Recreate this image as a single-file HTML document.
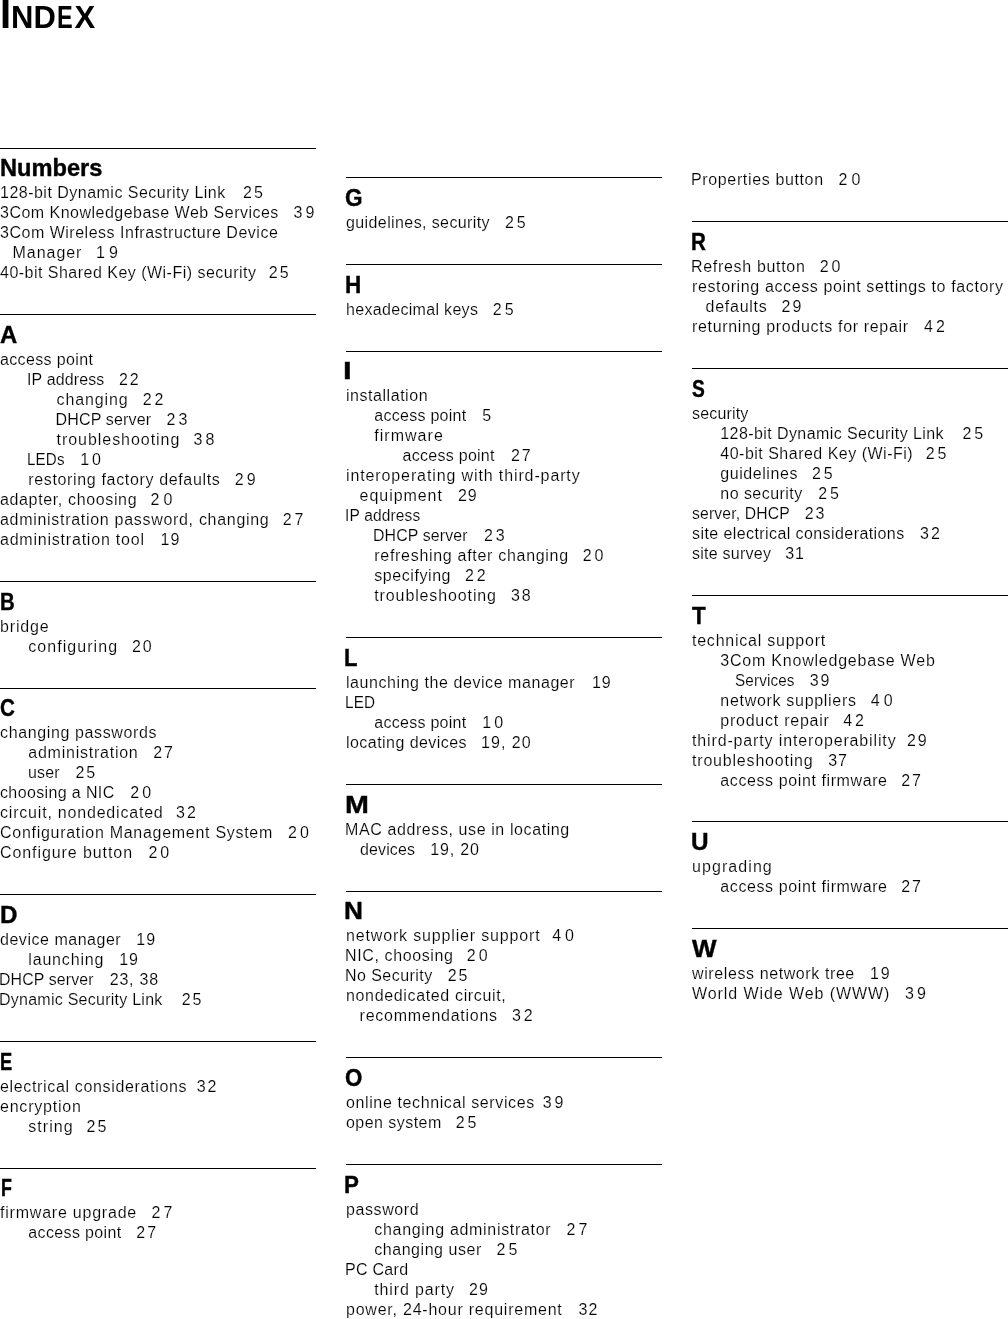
<!DOCTYPE html>
<html><head><meta charset="utf-8"><style>
html,body{margin:0;padding:0;background:#fff;}
body{width:1008px;height:1319px;position:relative;overflow:hidden;font-family:"Liberation Sans",sans-serif;color:#000;}
.l,.n{position:absolute;white-space:pre;font-size:16px;line-height:20px;height:20px;color:#000;-webkit-text-stroke:0.15px #fff;}
.h{position:absolute;white-space:pre;font-size:24px;line-height:30px;height:30px;font-weight:bold;-webkit-text-stroke:0.4px #000;}
.w{position:absolute;left:0;top:0;width:1008px;height:1319px;will-change:transform;}
.r{position:absolute;height:1px;background:#000;}
.t1{position:absolute;left:0px;top:-11px;font-size:40px;line-height:50px;font-weight:bold;}
.t2{position:absolute;top:-7.5px;font-size:31px;line-height:50px;font-weight:bold;white-space:pre;}
</style></head><body><div class="w">
<div class="t1">I</div><div class="t2" style="left:11px">ND</div><div class="t2" style="left:57.2px;transform:scaleX(0.76);transform-origin:0 0">E</div><div class="t2" style="left:74.5px">X</div>
<div class="r" style="left:0px;top:148px;width:316px"></div>
<div class="r" style="left:0px;top:314px;width:316px"></div>
<div class="r" style="left:0px;top:581px;width:316px"></div>
<div class="r" style="left:0px;top:688px;width:316px"></div>
<div class="r" style="left:0px;top:894px;width:316px"></div>
<div class="r" style="left:0px;top:1041px;width:316px"></div>
<div class="r" style="left:0px;top:1168px;width:316px"></div>
<div class="r" style="left:346px;top:177px;width:316px"></div>
<div class="r" style="left:346px;top:264px;width:316px"></div>
<div class="r" style="left:346px;top:351px;width:316px"></div>
<div class="r" style="left:346px;top:637px;width:316px"></div>
<div class="r" style="left:346px;top:784px;width:316px"></div>
<div class="r" style="left:346px;top:891px;width:316px"></div>
<div class="r" style="left:346px;top:1057px;width:316px"></div>
<div class="r" style="left:346px;top:1164px;width:316px"></div>
<div class="r" style="left:692px;top:221px;width:316px"></div>
<div class="r" style="left:692px;top:368px;width:316px"></div>
<div class="r" style="left:692px;top:595px;width:316px"></div>
<div class="r" style="left:692px;top:821px;width:316px"></div>
<div class="r" style="left:692px;top:928px;width:316px"></div>
<div class="h" style="left:-0.17px;top:152.7px;transform:scaleX(0.984);transform-origin:0 0">Numbers</div>
<div class="h" style="left:0.01px;top:320.4px;transform:scaleX(0.994);transform-origin:0 0">A</div>
<div class="h" style="left:0.3px;top:587.1px;transform:scaleX(0.85);transform-origin:0 0">B</div>
<div class="h" style="left:0.14px;top:692.8px;transform:scaleX(0.86);transform-origin:0 0">C</div>
<div class="h" style="left:-0.01px;top:899.5px;transform:scaleX(1.007);transform-origin:0 0">D</div>
<div class="h" style="left:0.48px;top:1047.2px;transform:scaleX(0.762);transform-origin:0 0">E</div>
<div class="h" style="left:0.52px;top:1172.9px;transform:scaleX(0.742);transform-origin:0 0">F</div>
<div class="h" style="left:345.06px;top:182.7px;transform:scaleX(0.938);transform-origin:0 0">G</div>
<div class="h" style="left:345.03px;top:270.4px;transform:scaleX(0.936);transform-origin:0 0">H</div>
<div class="h" style="left:343.4px;top:356.1px;transform:scaleX(1.3);transform-origin:0 0">I</div>
<div class="h" style="left:344.17px;top:642.8px;transform:scaleX(0.917);transform-origin:0 0">L</div>
<div class="h" style="left:344.51px;top:789.5px;transform:scaleX(1.194);transform-origin:0 0">M</div>
<div class="h" style="left:343.81px;top:896.2px;transform:scaleX(1.093);transform-origin:0 0">N</div>
<div class="h" style="left:345.07px;top:1062.9px;transform:scaleX(0.929);transform-origin:0 0">O</div>
<div class="h" style="left:344.14px;top:1169.6px;transform:scaleX(0.931);transform-origin:0 0">P</div>
<div class="h" style="left:691.18px;top:226.7px;transform:scaleX(0.86);transform-origin:0 0">R</div>
<div class="h" style="left:692.1px;top:374.4px;transform:scaleX(0.8);transform-origin:0 0">S</div>
<div class="h" style="left:691.95px;top:601.1px;transform:scaleX(0.932);transform-origin:0 0">T</div>
<div class="h" style="left:691.09px;top:826.8px;transform:scaleX(1.013);transform-origin:0 0">U</div>
<div class="h" style="left:691.95px;top:933.5px;transform:scaleX(1.084);transform-origin:0 0">W</div>
<div class="l" id="t0" style="left:0.00px;top:182.5px;letter-spacing:0.486px">128-bit Dynamic Security Link</div>
<div class="n" id="n0" style="left:243.00px;top:182.5px;letter-spacing:2.000px">25</div>
<div class="l" id="t1" style="left:0.00px;top:202.5px;letter-spacing:0.483px">3Com Knowledgebase Web Services</div>
<div class="n" id="n1" style="left:293.60px;top:202.5px;letter-spacing:3.000px">39</div>
<div class="l" id="t2" style="left:0.00px;top:222.5px;letter-spacing:0.509px">3Com Wireless Infrastructure Device</div>
<div class="l" id="t3" style="left:12.60px;top:242.5px;letter-spacing:0.950px">Manager</div>
<div class="n" id="n3" style="left:96.00px;top:242.5px;letter-spacing:4.000px">19</div>
<div class="l" id="t4" style="left:0.00px;top:262.5px;letter-spacing:0.480px">40-bit Shared Key (Wi-Fi) security</div>
<div class="n" id="n4" style="left:268.80px;top:262.5px;letter-spacing:2.000px">25</div>
<div class="l" id="t5" style="left:0.00px;top:350.2px;letter-spacing:0.359px">access point</div>
<div class="l" id="t6" style="left:27.30px;top:370.2px;letter-spacing:0.150px;transform:scaleX(0.9962);transform-origin:0 0">IP address</div>
<div class="n" id="n6" style="left:118.90px;top:370.2px;letter-spacing:2.000px">22</div>
<div class="l" id="t7" style="left:56.60px;top:390.2px;letter-spacing:0.879px">changing</div>
<div class="n" id="n7" style="left:142.70px;top:390.2px;letter-spacing:3.000px">22</div>
<div class="l" id="t8" style="left:55.60px;top:410.2px;letter-spacing:0.151px">DHCP server</div>
<div class="n" id="n8" style="left:166.50px;top:410.2px;letter-spacing:3.000px">23</div>
<div class="l" id="t9" style="left:56.60px;top:430.2px;letter-spacing:0.950px">troubleshooting</div>
<div class="n" id="n9" style="left:193.50px;top:430.2px;letter-spacing:3.000px">38</div>
<div class="l" id="t10" style="left:27.30px;top:450.2px;letter-spacing:0.150px;transform:scaleX(0.9472);transform-origin:0 0">LEDs</div>
<div class="n" id="n10" style="left:80.20px;top:450.2px;letter-spacing:3.000px">10</div>
<div class="l" id="t11" style="left:28.30px;top:470.2px;letter-spacing:0.650px">restoring factory defaults</div>
<div class="n" id="n11" style="left:234.80px;top:470.2px;letter-spacing:3.000px">29</div>
<div class="l" id="t12" style="left:0.00px;top:490.2px;letter-spacing:0.638px">adapter, choosing</div>
<div class="n" id="n12" style="left:150.60px;top:490.2px;letter-spacing:4.000px">20</div>
<div class="l" id="t13" style="left:0.00px;top:510.2px;letter-spacing:0.700px">administration password, changing</div>
<div class="n" id="n13" style="left:282.70px;top:510.2px;letter-spacing:3.000px">27</div>
<div class="l" id="t14" style="left:0.00px;top:530.2px;letter-spacing:0.783px">administration tool</div>
<div class="n" id="n14" style="left:160.50px;top:530.2px;letter-spacing:1.000px">19</div>
<div class="l" id="t15" style="left:0.00px;top:616.9px;letter-spacing:0.850px">bridge</div>
<div class="l" id="t16" style="left:28.30px;top:636.9px;letter-spacing:1.050px">configuring</div>
<div class="n" id="n16" style="left:131.90px;top:636.9px;letter-spacing:2.000px">20</div>
<div class="l" id="t17" style="left:0.00px;top:722.6px;letter-spacing:0.626px">changing passwords</div>
<div class="l" id="t18" style="left:28.30px;top:742.6px;letter-spacing:0.758px">administration</div>
<div class="n" id="n18" style="left:153.20px;top:742.6px;letter-spacing:2.000px">27</div>
<div class="l" id="t19" style="left:28.30px;top:762.6px;letter-spacing:0.150px;transform:scaleX(0.9974);transform-origin:0 0">user</div>
<div class="n" id="n19" style="left:75.40px;top:762.6px;letter-spacing:2.000px">25</div>
<div class="l" id="t20" style="left:0.00px;top:782.6px;letter-spacing:0.373px">choosing a NIC</div>
<div class="n" id="n20" style="left:130.30px;top:782.6px;letter-spacing:3.000px">20</div>
<div class="l" id="t21" style="left:0.00px;top:802.6px;letter-spacing:0.800px">circuit, nondedicated</div>
<div class="n" id="n21" style="left:176.00px;top:802.6px;letter-spacing:2.000px">32</div>
<div class="l" id="t22" style="left:0.00px;top:822.6px;letter-spacing:0.717px">Configuration Management System</div>
<div class="n" id="n22" style="left:288.10px;top:822.6px;letter-spacing:3.000px">20</div>
<div class="l" id="t23" style="left:0.00px;top:842.6px;letter-spacing:0.917px">Configure button</div>
<div class="n" id="n23" style="left:148.40px;top:842.6px;letter-spacing:3.000px">20</div>
<div class="l" id="t24" style="left:0.00px;top:930.3px;letter-spacing:0.527px">device manager</div>
<div class="n" id="n24" style="left:136.30px;top:930.3px;letter-spacing:1.000px">19</div>
<div class="l" id="t25" style="left:28.30px;top:950.3px;letter-spacing:0.825px">launching</div>
<div class="n" id="n25" style="left:119.20px;top:950.3px;letter-spacing:1.000px">19</div>
<div class="l" id="t26" style="left:-1.00px;top:970.3px;letter-spacing:0.150px;transform:scaleX(0.9895);transform-origin:0 0">DHCP server</div>
<div class="n" id="n26" style="left:109.70px;top:970.3px;letter-spacing:0.800px">23, 38</div>
<div class="l" id="t27" style="left:-1.00px;top:990.3px;letter-spacing:0.250px">Dynamic Security Link</div>
<div class="n" id="n27" style="left:181.70px;top:990.3px;letter-spacing:2.000px">25</div>
<div class="l" id="t28" style="left:0.00px;top:1077.0px;letter-spacing:0.658px">electrical considerations</div>
<div class="n" id="n28" style="left:196.70px;top:1077.0px;letter-spacing:2.000px">32</div>
<div class="l" id="t29" style="left:0.00px;top:1097.0px;letter-spacing:0.783px">encryption</div>
<div class="l" id="t30" style="left:28.30px;top:1117.0px;letter-spacing:1.050px">string</div>
<div class="n" id="n30" style="left:86.50px;top:1117.0px;letter-spacing:2.000px">25</div>
<div class="l" id="t31" style="left:0.00px;top:1202.7px;letter-spacing:0.783px">firmware upgrade</div>
<div class="n" id="n31" style="left:151.60px;top:1202.7px;letter-spacing:3.000px">27</div>
<div class="l" id="t32" style="left:28.30px;top:1222.7px;letter-spacing:0.359px">access point</div>
<div class="n" id="n32" style="left:136.30px;top:1222.7px;letter-spacing:2.000px">27</div>
<div class="l" id="t33" style="left:346.00px;top:212.5px;letter-spacing:0.397px">guidelines, security</div>
<div class="n" id="n33" style="left:504.90px;top:212.5px;letter-spacing:3.000px">25</div>
<div class="l" id="t34" style="left:346.00px;top:300.2px;letter-spacing:0.317px">hexadecimal keys</div>
<div class="n" id="n34" style="left:492.80px;top:300.2px;letter-spacing:3.000px">25</div>
<div class="l" id="t35" style="left:346.00px;top:385.9px;letter-spacing:0.541px">installation</div>
<div class="l" id="t36" style="left:374.30px;top:405.9px;letter-spacing:0.268px">access point</div>
<div class="n" id="n36" style="left:482.30px;top:405.9px;letter-spacing:2.000px">5</div>
<div class="l" id="t37" style="left:374.30px;top:425.9px;letter-spacing:1.021px">firmware</div>
<div class="l" id="t38" style="left:402.60px;top:445.9px;letter-spacing:0.268px">access point</div>
<div class="n" id="n38" style="left:510.90px;top:445.9px;letter-spacing:2.000px">27</div>
<div class="l" id="t39" style="left:346.00px;top:465.9px;letter-spacing:0.883px">interoperating with third-party</div>
<div class="l" id="t40" style="left:359.60px;top:485.9px;letter-spacing:0.950px">equipment</div>
<div class="n" id="n40" style="left:457.90px;top:485.9px;letter-spacing:1.000px">29</div>
<div class="l" id="t41" style="left:345.00px;top:505.9px;letter-spacing:0.150px;transform:scaleX(0.9702);transform-origin:0 0">IP address</div>
<div class="l" id="t42" style="left:373.30px;top:525.9px;letter-spacing:0.150px;transform:scaleX(0.9898);transform-origin:0 0">DHCP server</div>
<div class="n" id="n42" style="left:483.90px;top:525.9px;letter-spacing:3.000px">23</div>
<div class="l" id="t43" style="left:374.30px;top:545.9px;letter-spacing:0.700px">refreshing after changing</div>
<div class="n" id="n43" style="left:582.70px;top:545.9px;letter-spacing:3.000px">20</div>
<div class="l" id="t44" style="left:374.30px;top:565.9px;letter-spacing:0.561px">specifying</div>
<div class="n" id="n44" style="left:464.90px;top:565.9px;letter-spacing:3.000px">22</div>
<div class="l" id="t45" style="left:374.30px;top:585.9px;letter-spacing:0.879px">troubleshooting</div>
<div class="n" id="n45" style="left:510.90px;top:585.9px;letter-spacing:2.000px">38</div>
<div class="l" id="t46" style="left:346.00px;top:672.6px;letter-spacing:0.561px">launching the device manager</div>
<div class="n" id="n46" style="left:591.90px;top:672.6px;letter-spacing:1.000px">19</div>
<div class="l" id="t47" style="left:345.00px;top:692.6px;letter-spacing:0.150px;transform:scaleX(0.9553);transform-origin:0 0">LED</div>
<div class="l" id="t48" style="left:374.30px;top:712.6px;letter-spacing:0.268px">access point</div>
<div class="n" id="n48" style="left:482.30px;top:712.6px;letter-spacing:3.000px">10</div>
<div class="l" id="t49" style="left:346.00px;top:732.6px;letter-spacing:0.450px">locating devices</div>
<div class="n" id="n49" style="left:481.10px;top:732.6px;letter-spacing:1.000px">19, 20</div>
<div class="l" id="t50" style="left:345.00px;top:820.3px;letter-spacing:0.598px">MAC address, use in locating</div>
<div class="l" id="t51" style="left:359.60px;top:840.3px;letter-spacing:0.150px;transform:scaleX(0.9964);transform-origin:0 0">devices</div>
<div class="n" id="n51" style="left:430.30px;top:840.3px;letter-spacing:0.800px">19, 20</div>
<div class="l" id="t52" style="left:346.00px;top:926.0px;letter-spacing:0.841px">network supplier support</div>
<div class="n" id="n52" style="left:552.20px;top:926.0px;letter-spacing:4.000px">40</div>
<div class="l" id="t53" style="left:345.00px;top:946.0px;letter-spacing:0.617px">NIC, choosing</div>
<div class="n" id="n53" style="left:466.80px;top:946.0px;letter-spacing:3.000px">20</div>
<div class="l" id="t54" style="left:345.00px;top:966.0px;letter-spacing:0.450px">No Security</div>
<div class="n" id="n54" style="left:447.70px;top:966.0px;letter-spacing:2.000px">25</div>
<div class="l" id="t55" style="left:346.00px;top:986.0px;letter-spacing:0.650px">nondedicated circuit,</div>
<div class="l" id="t56" style="left:359.60px;top:1006.0px;letter-spacing:0.736px">recommendations</div>
<div class="n" id="n56" style="left:511.90px;top:1006.0px;letter-spacing:3.000px">32</div>
<div class="l" id="t57" style="left:346.00px;top:1092.7px;letter-spacing:0.617px">online technical services</div>
<div class="n" id="n57" style="left:542.70px;top:1092.7px;letter-spacing:3.000px">39</div>
<div class="l" id="t58" style="left:346.00px;top:1112.7px;letter-spacing:0.450px">open system</div>
<div class="n" id="n58" style="left:455.70px;top:1112.7px;letter-spacing:3.000px">25</div>
<div class="l" id="t59" style="left:346.00px;top:1200.4px;letter-spacing:0.593px">password</div>
<div class="l" id="t60" style="left:374.30px;top:1220.4px;letter-spacing:0.688px">changing administrator</div>
<div class="n" id="n60" style="left:566.50px;top:1220.4px;letter-spacing:3.000px">27</div>
<div class="l" id="t61" style="left:374.30px;top:1240.4px;letter-spacing:0.533px">changing user</div>
<div class="n" id="n61" style="left:496.60px;top:1240.4px;letter-spacing:3.000px">25</div>
<div class="l" id="t62" style="left:345.00px;top:1260.4px;letter-spacing:0.284px">PC Card</div>
<div class="l" id="t63" style="left:374.30px;top:1280.4px;letter-spacing:0.850px">third party</div>
<div class="n" id="n63" style="left:469.00px;top:1280.4px;letter-spacing:1.000px">29</div>
<div class="l" id="t64" style="left:346.00px;top:1300.4px;letter-spacing:0.770px">power, 24-hour requirement</div>
<div class="n" id="n64" style="left:578.50px;top:1300.4px;letter-spacing:1.000px">32</div>
<div class="l" id="t65" style="left:691.00px;top:170.0px;letter-spacing:0.638px">Properties button</div>
<div class="n" id="n65" style="left:838.50px;top:170.0px;letter-spacing:4.000px">20</div>
<div class="l" id="t66" style="left:691.00px;top:256.5px;letter-spacing:0.681px">Refresh button</div>
<div class="n" id="n66" style="left:819.70px;top:256.5px;letter-spacing:3.000px">20</div>
<div class="l" id="t67" style="left:692.00px;top:276.5px;letter-spacing:0.621px">restoring access point settings to factory</div>
<div class="l" id="t68" style="left:705.60px;top:296.5px;letter-spacing:0.736px">defaults</div>
<div class="n" id="n68" style="left:781.50px;top:296.5px;letter-spacing:2.000px">29</div>
<div class="l" id="t69" style="left:692.00px;top:316.5px;letter-spacing:0.664px">returning products for repair</div>
<div class="n" id="n69" style="left:924.10px;top:316.5px;letter-spacing:3.000px">42</div>
<div class="l" id="t70" style="left:692.00px;top:404.2px;letter-spacing:0.164px">security</div>
<div class="l" id="t71" style="left:720.30px;top:424.2px;letter-spacing:0.414px">128-bit Dynamic Security Link</div>
<div class="n" id="n71" style="left:962.40px;top:424.2px;letter-spacing:3.000px">25</div>
<div class="l" id="t72" style="left:720.30px;top:444.2px;letter-spacing:0.492px">40-bit Shared Key (Wi-Fi)</div>
<div class="n" id="n72" style="left:925.70px;top:444.2px;letter-spacing:3.000px">25</div>
<div class="l" id="t73" style="left:720.30px;top:464.2px;letter-spacing:0.561px">guidelines</div>
<div class="n" id="n73" style="left:811.90px;top:464.2px;letter-spacing:3.000px">25</div>
<div class="l" id="t74" style="left:720.30px;top:484.2px;letter-spacing:0.450px">no security</div>
<div class="n" id="n74" style="left:818.20px;top:484.2px;letter-spacing:3.000px">25</div>
<div class="l" id="t75" style="left:692.00px;top:504.2px;letter-spacing:0.150px;transform:scaleX(0.9829);transform-origin:0 0">server, DHCP</div>
<div class="n" id="n75" style="left:804.70px;top:504.2px;letter-spacing:2.000px">23</div>
<div class="l" id="t76" style="left:692.00px;top:524.2px;letter-spacing:0.416px">site electrical considerations</div>
<div class="n" id="n76" style="left:920.00px;top:524.2px;letter-spacing:2.000px">32</div>
<div class="l" id="t77" style="left:692.00px;top:544.2px;letter-spacing:0.250px">site survey</div>
<div class="n" id="n77" style="left:785.20px;top:544.2px;letter-spacing:1.000px">31</div>
<div class="l" id="t78" style="left:692.00px;top:630.9px;letter-spacing:0.763px">technical support</div>
<div class="l" id="t79" style="left:720.30px;top:650.9px;letter-spacing:0.783px">3Com Knowledgebase Web</div>
<div class="l" id="t80" style="left:734.60px;top:670.9px;letter-spacing:0.150px;transform:scaleX(0.9531);transform-origin:0 0">Services</div>
<div class="n" id="n80" style="left:809.70px;top:670.9px;letter-spacing:2.000px">39</div>
<div class="l" id="t81" style="left:720.30px;top:690.9px;letter-spacing:0.700px">network suppliers</div>
<div class="n" id="n81" style="left:870.80px;top:690.9px;letter-spacing:4.000px">40</div>
<div class="l" id="t82" style="left:720.30px;top:710.9px;letter-spacing:0.758px">product repair</div>
<div class="n" id="n82" style="left:843.20px;top:710.9px;letter-spacing:3.000px">42</div>
<div class="l" id="t83" style="left:692.00px;top:730.9px;letter-spacing:0.857px">third-party interoperability</div>
<div class="n" id="n83" style="left:906.90px;top:730.9px;letter-spacing:2.000px">29</div>
<div class="l" id="t84" style="left:692.00px;top:750.9px;letter-spacing:0.807px">troubleshooting</div>
<div class="n" id="n84" style="left:828.20px;top:750.9px;letter-spacing:1.000px">37</div>
<div class="l" id="t85" style="left:720.30px;top:770.9px;letter-spacing:0.600px">access point firmware</div>
<div class="n" id="n85" style="left:901.20px;top:770.9px;letter-spacing:2.000px">27</div>
<div class="l" id="t86" style="left:692.00px;top:856.6px;letter-spacing:1.075px">upgrading</div>
<div class="l" id="t87" style="left:720.30px;top:876.6px;letter-spacing:0.600px">access point firmware</div>
<div class="n" id="n87" style="left:901.20px;top:876.6px;letter-spacing:2.000px">27</div>
<div class="l" id="t88" style="left:692.00px;top:964.3px;letter-spacing:0.600px">wireless network tree</div>
<div class="n" id="n88" style="left:869.90px;top:964.3px;letter-spacing:2.000px">19</div>
<div class="l" id="t89" style="left:692.00px;top:984.3px;letter-spacing:0.924px">World Wide Web (WWW)</div>
<div class="n" id="n89" style="left:905.00px;top:984.3px;letter-spacing:3.000px">39</div>
</div></body></html>
